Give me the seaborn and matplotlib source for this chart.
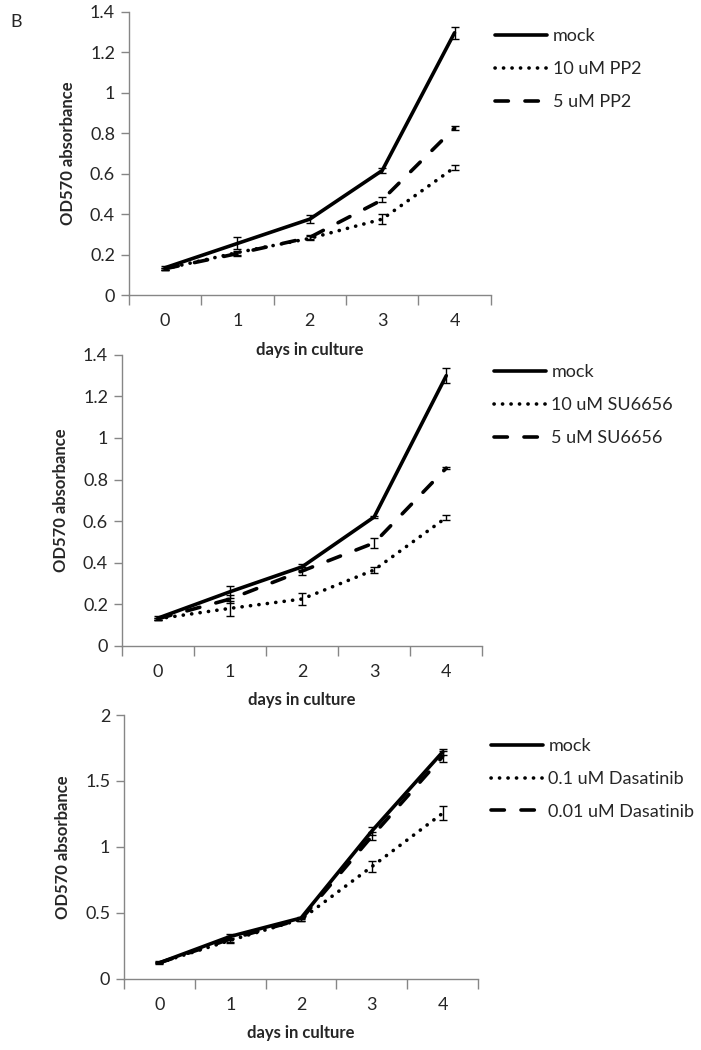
import numpy as np
import pandas as pd
import matplotlib
matplotlib.use('Agg')
import matplotlib.pyplot as plt
from matplotlib.ticker import FuncFormatter, FixedLocator
import seaborn as sns

# values (mean and error bar half-height)
days = [0, 1, 2, 3, 4]

pp2_labels = ['mock', '10 uM PP2', '5 uM PP2']
pp2_mock = [0.135, 0.255, 0.375, 0.615, 1.295]
pp2_mock_err = [0.01, 0.03, 0.02, 0.01, 0.03]
pp2_10 = [0.13, 0.21, 0.28, 0.375, 0.63]
pp2_10_err = [0.005, 0.01, 0.01, 0.025, 0.01]
pp2_5 = [0.13, 0.205, 0.285, 0.47, 0.825]
pp2_5_err = [0.005, 0.01, 0.01, 0.012, 0.012]

su_labels = ['mock', '10 uM SU6656', '5 uM SU6656']
su_mock = [0.133, 0.26, 0.38, 0.62, 1.30]
su_mock_err = [0.01, 0.03, 0.015, 0.005, 0.035]
su_10 = [0.13, 0.18, 0.225, 0.365, 0.617]
su_10_err = [0.005, 0.035, 0.03, 0.015, 0.012]
su_5 = [0.13, 0.225, 0.36, 0.495, 0.855]
su_5_err = [0.005, 0.02, 0.02, 0.025, 0.005]

das_labels = ['mock', '0.1 uM Dasatinib', '0.01 uM Dasatinib']
das_mock = [0.12, 0.32, 0.46, 1.12, 1.72]
das_mock_err = [0.01, 0.02, 0.01, 0.03, 0.02]
das_01 = [0.12, 0.29, 0.45, 0.85, 1.255]
das_01_err = [0.005, 0.02, 0.01, 0.04, 0.055]
das_001 = [0.12, 0.30, 0.45, 1.08, 1.685]
das_001_err = [0.005, 0.02, 0.01, 0.03, 0.045]

sns.set_style('white')
plt.rcParams['font.family'] = ['Lato', 'DejaVu Sans']
plt.rcParams['lines.dash_capstyle'] = 'round'

GRAY = '#868686'
LW = 2.6
FS = 13
dash_styles = ['', (0.05, 2.3), (3.7, 4.6)]

fig = plt.figure(figsize=(7.01, 10.5), dpi=100)

panels = [
    # labels, series, errors, ylim, yticks, axes rect, legend anchor
    (pp2_labels, [pp2_mock, pp2_10, pp2_5], [pp2_mock_err, pp2_10_err, pp2_5_err],
     1.4, np.arange(0, 1.41, 0.2), [0.184, 0.719, 0.516, 0.270], (0.706, 0.973)),
    (su_labels, [su_mock, su_10, su_5], [su_mock_err, su_10_err, su_5_err],
     1.4, np.arange(0, 1.41, 0.2), [0.174, 0.385, 0.514, 0.277], (0.704, 0.653)),
    (das_labels, [das_mock, das_01, das_001], [das_mock_err, das_01_err, das_001_err],
     2.0, np.arange(0, 2.01, 0.5), [0.177, 0.068, 0.505, 0.251], (0.700, 0.297)),
]

for labels, series, errs, ymax, yticks, rect, anchor in panels:
    ax = fig.add_axes(rect)
    ax.set_facecolor('none')
    df = pd.DataFrame({
        'day': days * 3,
        'od': sum(series, []),
        'treatment': sum([[lab] * len(days) for lab in labels], []),
    })
    sns.lineplot(data=df, x='day', y='od', style='treatment', style_order=labels,
                 dashes=dict(zip(labels, dash_styles)), color='black',
                 linewidth=LW, ax=ax)
    for vals, err in zip(series, errs):
        ax.errorbar(days, vals, yerr=err, fmt='none', ecolor='black',
                    elinewidth=1, capsize=3.2, capthick=1, zorder=3)

    ax.set_xlim(-0.5, 4.5)
    ax.set_ylim(0, ymax)
    ax.set_yticks(yticks)
    ax.yaxis.set_major_formatter(FuncFormatter(lambda v, p: f'{v:g}'))
    ax.set_xticks(days)
    ax.xaxis.set_minor_locator(FixedLocator(np.arange(-0.5, 4.6, 1)))
    ax.tick_params(axis='x', which='major', length=0, pad=13, labelsize=FS)
    ax.tick_params(axis='x', which='minor', length=7, width=1, color=GRAY, direction='out')
    ax.tick_params(axis='y', length=6, width=1, color=GRAY, direction='out', labelsize=FS, pad=4)
    ax.tick_params(bottom=True, left=True, which='both')
    for side in ['top', 'right']:
        ax.spines[side].set_visible(False)
    for side in ['left', 'bottom']:
        ax.spines[side].set_color(GRAY)
        ax.spines[side].set_linewidth(1)

    ax.set_xlabel('days in culture', fontsize=12, fontweight='bold', labelpad=9)
    ax.set_ylabel('OD570 absorbance', fontsize=12, fontweight='bold', labelpad=10)

    h, l = ax.get_legend_handles_labels()
    for hh in h:
        hh.set_linewidth(LW)
        hh.set_color('black')
    ax.legend(h, l, loc='upper left', bbox_to_anchor=anchor, bbox_transform=fig.transFigure,
              frameon=False, fontsize=FS, handlelength=2.9, handletextpad=0.3,
              labelspacing=0.93, borderpad=0, borderaxespad=0)

fig.text(0.015, 0.979, 'B', fontsize=13, va='center')

fig.savefig('out.png', dpi=100)
